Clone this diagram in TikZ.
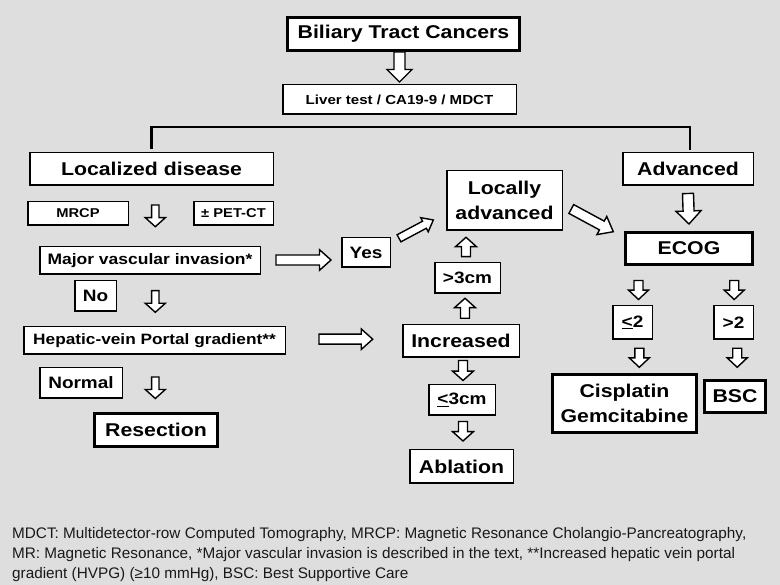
\documentclass[tikz,border=0pt]{standalone}
\usepackage{fontspec}
\setmainfont{Liberation Sans}
\newfontfamily\labfont[FakeStretch=1.15]{Liberation Sans}
\usetikzlibrary{calc}
\definecolor{bg}{HTML}{DEDEDE}
\newcommand\barrow[5]{%
  \coordinate (bt) at #1; \coordinate (bh) at #2;
  \coordinate (bb) at ($(bh)!#5pt!(bt)$);
  \path[barr] ($(bt)!#3pt!90:(bh)$) -- ($(bb)!#3pt!-90:(bt)$) -- ($(bb)!#4pt!-90:(bt)$) -- (bh)
    -- ($(bb)!#4pt!90:(bt)$) -- ($(bb)!#3pt!90:(bt)$) -- ($(bt)!#3pt!-90:(bh)$) -- cycle;}
\tikzset{
  box/.style={draw, line width=1.5pt, fill=white, inner sep=0pt, align=center},
  thickbox/.style={box, line width=3pt},
  wh/.style 2 args={minimum width=#1pt, minimum height=#2pt},
  fbig/.style={font=\labfont\bfseries\fontsize{18.5}{25.5}\selectfont},
  fmed/.style={font=\labfont\bfseries\fontsize{16.5}{20}\selectfont},
  fmid/.style={font=\labfont\bfseries\fontsize{15.2}{18}\selectfont},
  fsmall/.style={font=\labfont\bfseries\fontsize{12.8}{15}\selectfont},
  barr/.style={draw, line width=1.4pt, fill=white, line join=miter},
  fn/.style={anchor=base west, inner sep=0pt, font=\fontsize{15.3}{19}\selectfont, text=black!90},
  bracket/.style={draw, line width=2.5pt},
}
\begin{document}
\begin{tikzpicture}[x=1pt, y=-1pt]
\useasboundingbox (0,0) rectangle (780,585);
\fill[bg] (0,0) rectangle (780,585);

% nodes
\node[thickbox, fbig, wh={232}{33}] (bil) at (403.5,34) {Biliary Tract Cancers};
\node[box, fsmall, font=\labfont\bfseries\fontsize{13.1}{15}\selectfont, wh={233.5}{29.5}] (liv) at (399.5,99.5) {Liver test / CA19-9 / MDCT};
\node[box, fbig, wh={243.5}{32.5}] (loc) at (151.5,169) {Localized disease};
\node[box, fbig, wh={130.5}{32.5}] (adv) at (688,169) {Advanced};
\node[box, fsmall, wh={100.5}{23.5}] (mrcp) at (78,213.5) {MRCP};
\node[box, fsmall, wh={79.5}{23.5}] (pet) at (233.5,213.5) {± PET-CT};
\node[box, fmid, wh={220.5}{27.5}] (maj) at (150,260.5) {Major vascular invasion*};
\node[box, fmed, wh={48.5}{29.5}] (yes) at (366,252.5) {Yes};
\node[box, fbig, wh={115.5}{59.5}] (la) at (504.5,200.5) {Locally\\advanced};
\node[thickbox, fbig, wh={127}{32}] (ecog) at (689,248.5) {ECOG};
\node[box, fmed, wh={41.5}{30.5}] (no) at (95.5,296) {No};
\node[box, fmid, font=\labfont\bfseries\fontsize{15}{18}\selectfont, wh={261.5}{27.5}] (hep) at (154.5,340.5) {Hepatic-vein Portal gradient**};
\node[box, fbig, wh={116.5}{32.5}] (inc) at (461,341) {Increased};
\node[box, fmed, wh={65.5}{30.5}] (gt3) at (467.5,278) {>3cm};
\node[box, fmed, wh={66.5}{30.5}] (le3) at (462,400) {\underline{<}3cm};
\node[box, fbig, wh={103.5}{33.5}] (abl) at (461.5,466.5) {Ablation};
\node[box, fmed, wh={82.5}{30.5}] (nor) at (81,383) {Normal};
\node[thickbox, fbig, wh={123}{33}] (res) at (156,430) {Resection};
\node[box, fmed, wh={39.5}{33.5}] (le2) at (632.5,322.5) {\underline{<}2};
\node[box, fmed, wh={39.5}{33.5}] (gt2) at (733.5,322.5) {>2};
\node[thickbox, fbig, wh={144}{58}] (cis) at (624.5,403.5) {Cisplatin\\Gemcitabine};
\node[thickbox, fbig, wh={61}{32}] (bsc) at (735,396.5) {BSC};

% bracket
\coordinate (brk) at (400,127);
\draw[bracket, shorten <=3pt, shorten >=2pt] (loc.north) |- (brk) -| ($(adv.north)+(2,0)$);

% block arrows
\barrow{(liv.north |- bil.south)}{($(liv.north)+(0,-2)$)}{5.5}{12.5}{12.5}
\coordinate (a2t) at (155.3,205);   \coordinate (a2h) at (155.3,226.7);
\barrow{(a2t)}{(a2h)}{3.7}{10}{9}
\coordinate (a3t) at (155.3,290.6); \coordinate (a3h) at (155.3,312.3);
\barrow{(a3t)}{(a3h)}{3.7}{10}{9}
\coordinate (a4t) at (155.3,377);   \coordinate (a4h) at (155.3,398.5);
\barrow{(a4t)}{(a4h)}{3.7}{10}{9}
\barrow{($(maj.east)+(15,-0.5)$)}{($(yes.west |- maj.east)+(-10,-0.5)$)}{5}{10.3}{11.5}
\coordinate (a6t) at (319,339.2);   \coordinate (a6h) at (372.7,339.2);
\barrow{(a6t)}{(a6h)}{5}{10.3}{11.5}
\coordinate (a7t) at (399,238.3);   \coordinate (a7h) at (433.3,220);
\barrow{(a7t)}{(a7h)}{4}{8}{10}
\coordinate (a8t) at (571.3,209);   \coordinate (a8h) at (613.3,231.7);
\barrow{(a8t)}{(a8h)}{5}{10.3}{13}
\barrow{($(adv.south)+(0,7.5)$)}{($(ecog.north)+(0,-7)$)}{5.5}{12.5}{13}
\coordinate (a10t) at (466,256.7);  \coordinate (a10h) at (466,237.3);
\barrow{(a10t)}{(a10h)}{4.5}{10.5}{9.4}
\coordinate (a11t) at (465,318.3);  \coordinate (a11h) at (465,298.3);
\barrow{(a11t)}{(a11h)}{4.5}{10.5}{9.4}
\coordinate (a12t) at (463,360.5);  \coordinate (a12h) at (463,380.5);
\barrow{(a12t)}{(a12h)}{4.5}{10.5}{9.4}
\coordinate (a13t) at (463,421.5);  \coordinate (a13h) at (463,441);
\barrow{(a13t)}{(a13h)}{4.5}{10.5}{9.4}
\coordinate (a14t) at (638.5,280.5); \coordinate (a14h) at (638.5,299.5);
\barrow{(a14t)}{(a14h)}{4.5}{10}{9.4}
\coordinate (a15t) at (734.2,280.5); \coordinate (a15h) at (734.2,299.5);
\barrow{(a15t)}{(a15h)}{4.5}{10}{9.4}
\coordinate (a16t) at (639.3,348.3); \coordinate (a16h) at (639.3,367.3);
\barrow{(a16t)}{(a16h)}{4.5}{10}{9.4}
\coordinate (a17t) at (737.2,348.3); \coordinate (a17h) at (737.2,367.3);
\barrow{(a17t)}{(a17h)}{4.5}{10}{9.4}

% footnote
\node[fn] (fn1) at (12,539) {MDCT: Multidetector-row Computed Tomography, MRCP: Magnetic Resonance Cholangio-Pancreatography,};
\node[fn] (fn2) at (12,558.5) {MR: Magnetic Resonance, *Major vascular invasion is described in the text, **Increased hepatic vein portal};
\node[fn] (fn3) at (12,578) {gradient (HVPG) (≥10 mmHg), BSC: Best Supportive Care};
\end{tikzpicture}
\end{document}
